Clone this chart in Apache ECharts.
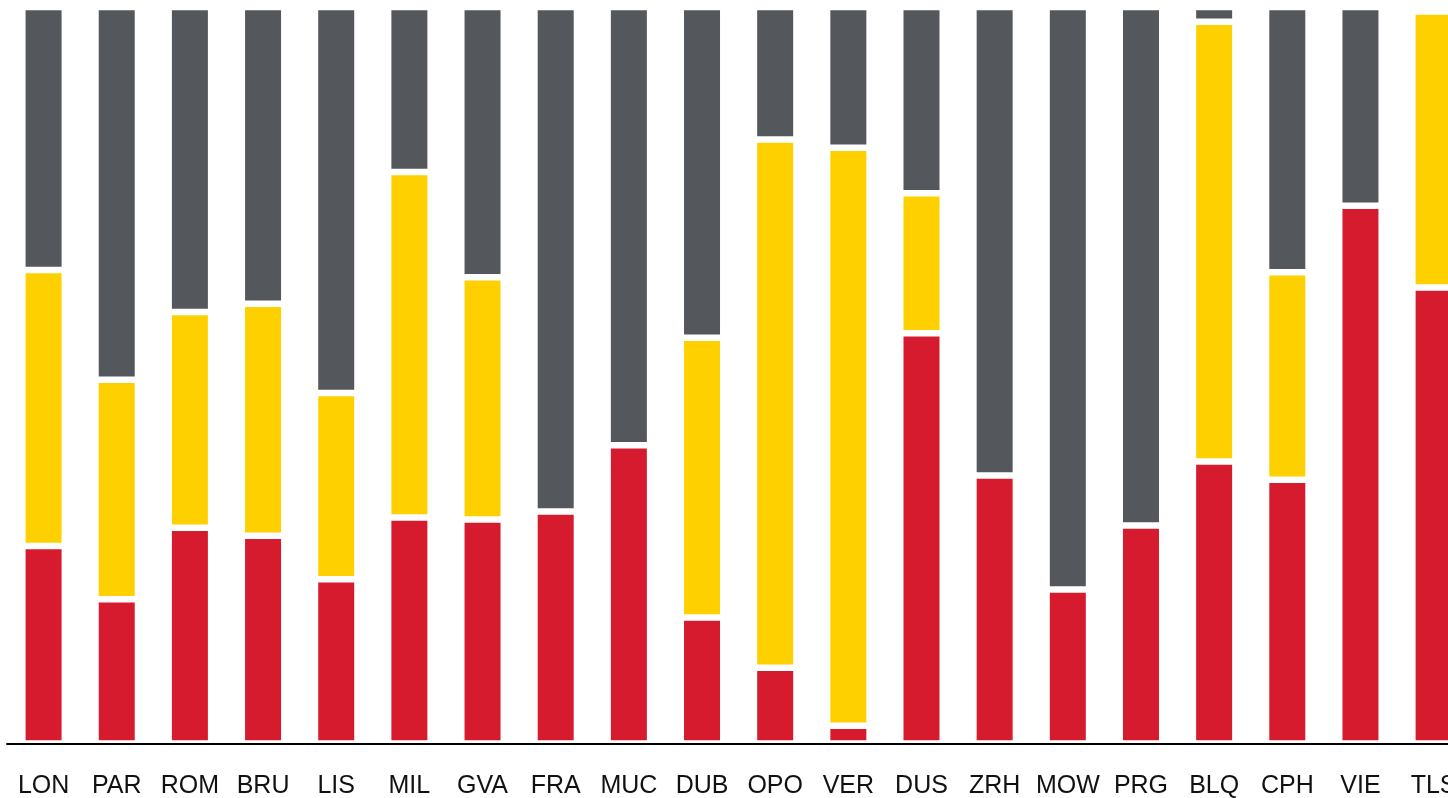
<!DOCTYPE html>
<html>
<head>
<meta charset="utf-8">
<title>Airport mix</title>
<script src="https://cdn.jsdelivr.net/npm/echarts@6/dist/echarts.min.js"></script>
<style>
  html, body { margin: 0; padding: 0; background: #ffffff; overflow: hidden; }
  #chart { width: 1448px; height: 798px; }
</style>
</head>
<body>
<div id="chart"></div>
<script>
// Airport codes along the x axis
const categories = ['LON', 'PAR', 'ROM', 'BRU', 'LIS', 'MIL', 'GVA', 'FRA', 'MUC', 'DUB',
                    'OPO', 'VER', 'DUS', 'ZRH', 'MOW', 'PRG', 'BLQ', 'CPH', 'VIE', 'TLS'];

// Share of each airport (percent), stacked bottom to top: red, yellow, grey
const redShare    = [26.8, 19.6, 29.3, 28.2, 22.3, 30.7, 30.4, 31.5, 40.5, 17.1,
                     10.3,  2.4, 55.7, 36.4, 20.9, 29.6, 38.3, 35.8, 73.0, 61.9];
const yellowShare = [37.5, 29.8, 29.3, 31.5, 25.3, 46.9, 32.9,  0.0,  0.0, 38.0,
                     71.7, 78.5, 19.0,  0.0,  0.0,  0.0, 59.7, 28.2,  0.0, 37.5];
const greyShare   = [35.7, 50.6, 41.4, 40.3, 52.4, 22.4, 36.7, 68.5, 59.5, 44.9,
                     18.0, 19.1, 25.3, 63.6, 79.1, 70.4,  2.0, 36.0, 27.0,  0.6];

const RED = '#d71b2e';
const YELLOW = '#ffd000';
const GREY = '#54575c';

function stackSeries(name, data, color) {
  return {
    name: name,
    type: 'bar',
    stack: 'share',
    data: data,
    barWidth: 42.5,
    itemStyle: { color: color, borderColor: '#ffffff', borderWidth: 3.25 },
    emphasis: { disabled: true },
    animation: false
  };
}

const chart = echarts.init(document.getElementById('chart'), null, { renderer: 'canvas' });
chart.setOption({
  animation: false,
  backgroundColor: '#ffffff',
  // the last column runs past the right edge of the page
  grid: { left: 7, right: -22.2, top: 7, bottom: 54.5, containLabel: false, outerBoundsMode: 'none' },
  xAxis: {
    type: 'category',
    data: categories,
    z: 10,
    offset: 1.5,
    axisLine: { show: true, lineStyle: { color: '#000000', width: 2 } },
    axisTick: { show: false },
    axisLabel: {
      interval: 0,
      margin: 29,
      color: '#111111',
      fontSize: 25,
      fontFamily: 'Liberation Sans, Arial, sans-serif'
    }
  },
  yAxis: {
    type: 'value',
    min: 0,
    max: 100,
    show: false,
    splitLine: { show: false }
  },
  series: [
    stackSeries('red', redShare, RED),
    stackSeries('yellow', yellowShare, YELLOW),
    stackSeries('grey', greyShare, GREY)
  ]
});
</script>
</body>
</html>
